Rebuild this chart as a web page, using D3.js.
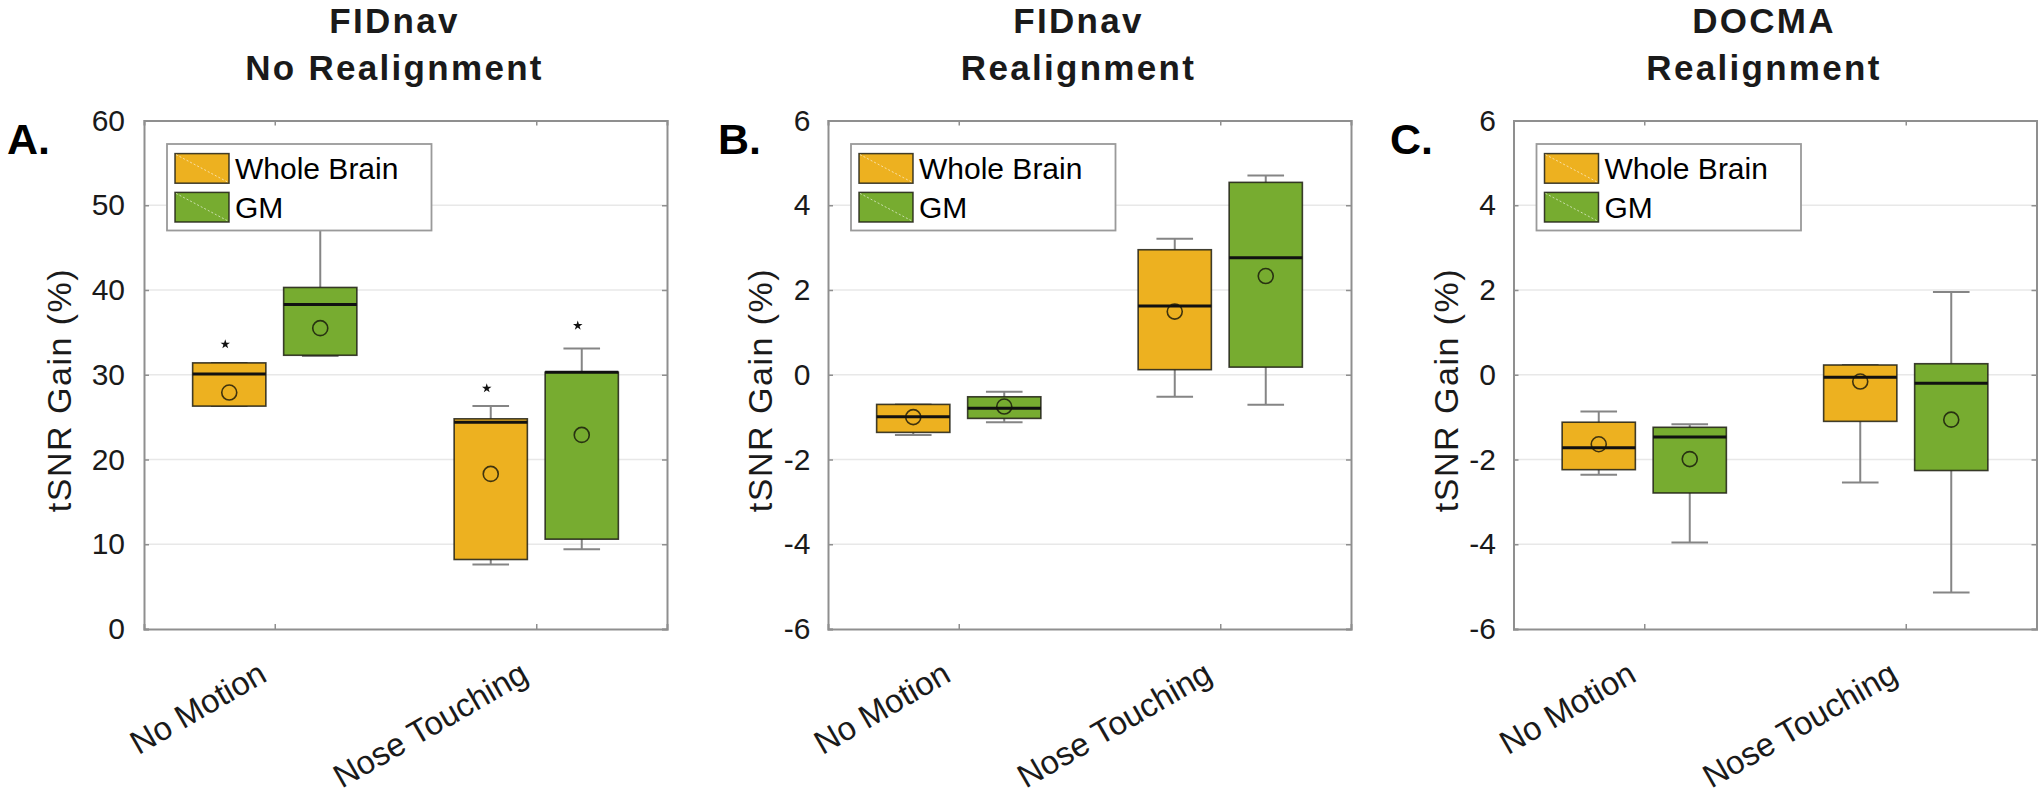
<!DOCTYPE html>
<html>
<head>
<meta charset="utf-8">
<script src="https://cdn.jsdelivr.net/npm/d3@7"></script>
<style>
  html, body { margin: 0; padding: 0; background: #fff; }
  svg { display: block; font-family: "Liberation Sans", Arial, Helvetica, sans-serif; }
</style>
</head>
<body>
<svg id="chart" width="2040" height="801"></svg>
<script>
// ---------------- DATA ----------------
const categories = ["No Motion", "Nose Touching"];
const seriesNames = ["Whole Brain", "GM"];
const panelLetters = ["A.", "B.", "C."];
const titleLine1 = ["FIDnav", "FIDnav", "DOCMA"];
const titleLine2 = ["No Realignment", "Realignment", "Realignment"];
const yAxisLabel = "tSNR Gain (%)";
const yTicksA = [0, 10, 20, 30, 40, 50, 60];
const yTicksBC = [-6, -4, -2, 0, 2, 4, 6];

// stats per category: [lower whisker, Q1, median, Q3, upper whisker, mean]
const fidnavNoRealignWholeBrain = [[26.3, 26.3, 30.1, 31.4, 31.4, 27.9], [7.6, 8.2, 24.4, 24.8, 26.3, 18.3]];
const fidnavNoRealignGM         = [[32.2, 32.3, 38.3, 40.3, 48.0, 35.5], [9.4, 10.6, 30.3, 30.3, 33.1, 22.9]];
const fidnavNoRealignOutliersWholeBrain = [33.6, 28.4];
const fidnavNoRealignOutliersGM         = [null, 35.8];

const fidnavRealignWholeBrain = [[-1.42, -1.36, -0.99, -0.70, -0.70, -1.00], [-0.52, 0.12, 1.62, 2.95, 3.21, 1.49]];
const fidnavRealignGM         = [[-1.12, -1.03, -0.79, -0.52, -0.40, -0.75], [-0.71, 0.18, 2.76, 4.54, 4.70, 2.33]];

const docmaRealignWholeBrain = [[-2.36, -2.24, -1.72, -1.12, -0.87, -1.64], [-2.54, -1.10, -0.06, 0.23, 0.23, -0.16]];
const docmaRealignGM         = [[-3.96, -2.79, -1.47, -1.24, -1.17, -1.99], [-5.14, -2.26, -0.20, 0.26, 1.95, -1.06]];

// ---------------- LAYOUT / STYLE ----------------
const seriesColors = ["#EDB120", "#77AC30"];
const seriesOffset = [-0.174, 0.174];
const boxWidthUnits = 0.28;
const plotTop = 120.5, plotBottom = 629, plotWidth = 523;
const panelLeft = [144, 828, 1513.5];
const letterX = [7, 718, 1390];
const ylabelGap = [73, 56, 56];
const tickGap = [19, 17.5, 17.5];
const frameColor = "#8f8f8f";
const textColor = "#1a1a1a";

const panels = [
  { yTicks: yTicksA,  stats: [fidnavNoRealignWholeBrain, fidnavNoRealignGM], outliers: [fidnavNoRealignOutliersWholeBrain, fidnavNoRealignOutliersGM] },
  { yTicks: yTicksBC, stats: [fidnavRealignWholeBrain, fidnavRealignGM], outliers: [[null, null], [null, null]] },
  { yTicks: yTicksBC, stats: [docmaRealignWholeBrain, docmaRealignGM], outliers: [[null, null], [null, null]] }
];

const svg = d3.select("#chart");
svg.append("rect").attr("width", 2040).attr("height", 801).attr("fill", "#fff");

const starType = d3.symbolStar;

panels.forEach((p, i) => {
  const left = panelLeft[i];
  const right = left + plotWidth;
  const x = d3.scaleLinear().domain([0.5, 2.5]).range([left, right]);
  const y = d3.scaleLinear().domain(d3.extent(p.yTicks)).range([plotBottom, plotTop]);
  const g = svg.append("g");

  // grid lines
  g.append("g").selectAll("line").data(p.yTicks.slice(1, -1)).join("line")
    .attr("x1", left).attr("x2", right)
    .attr("y1", d => y(d)).attr("y2", d => y(d))
    .attr("stroke", "#e8e8e8").attr("stroke-width", 1.5);

  const bw = x(boxWidthUnits) - x(0);
  const capW = bw / 2;

  seriesNames.forEach((s, si) => {
    categories.forEach((c, ci) => {
      const st = p.stats[si][ci];
      const cx = x(ci + 1 + seriesOffset[si]);
      const bg = g.append("g");
      // whiskers
      bg.append("line").attr("x1", cx).attr("x2", cx).attr("y1", y(st[0])).attr("y2", y(st[1]))
        .attr("stroke", "#858585").attr("stroke-width", 2);
      bg.append("line").attr("x1", cx).attr("x2", cx).attr("y1", y(st[3])).attr("y2", y(st[4]))
        .attr("stroke", "#858585").attr("stroke-width", 2);
      [st[0], st[4]].forEach(v => {
        bg.append("line").attr("x1", cx - capW / 2).attr("x2", cx + capW / 2)
          .attr("y1", y(v)).attr("y2", y(v))
          .attr("stroke", "#858585").attr("stroke-width", 2);
      });
      // box
      bg.append("rect")
        .attr("x", cx - bw / 2).attr("width", bw)
        .attr("y", y(st[3])).attr("height", Math.max(1, y(st[1]) - y(st[3])))
        .attr("fill", seriesColors[si])
        .attr("stroke", "rgba(30,30,20,0.85)").attr("stroke-width", 1.6);
      // median
      bg.append("line").attr("x1", cx - bw / 2).attr("x2", cx + bw / 2)
        .attr("y1", y(st[2])).attr("y2", y(st[2]))
        .attr("stroke", "#111").attr("stroke-width", 3);
      // mean
      bg.append("circle").attr("cx", cx).attr("cy", y(st[5])).attr("r", 7.5)
        .attr("fill", "none").attr("stroke", "rgba(20,20,10,0.8)").attr("stroke-width", 1.6);
      // outlier
      const o = p.outliers[si][ci];
      if (o !== null && o !== undefined) {
        bg.append("path").attr("d", d3.symbol().type(starType).size(28)())
          .attr("transform", `translate(${cx - 4},${y(o)})`)
          .attr("fill", "#111");
      }
    });
  });

  // frame + ticks
  const axL = g.append("g").attr("transform", `translate(${left},0)`)
    .call(d3.axisLeft(y).tickValues(p.yTicks).tickSize(-5).tickPadding(tickGap[i]).tickFormat(d => String(d)));
  const axR = g.append("g").attr("transform", `translate(${right},0)`)
    .call(d3.axisRight(y).tickValues(p.yTicks).tickSize(-5).tickFormat(""));
  const axB = g.append("g").attr("transform", `translate(0,${plotBottom})`)
    .call(d3.axisBottom(x).tickValues([1, 2]).tickSize(-5).tickFormat(""));
  const axT = g.append("g").attr("transform", `translate(0,${plotTop})`)
    .call(d3.axisTop(x).tickValues([1, 2]).tickSize(-5).tickFormat(""));
  [axL, axR, axB, axT].forEach(a => {
    a.select(".domain").attr("stroke", frameColor).attr("stroke-width", 2);
    a.selectAll(".tick line").attr("stroke", frameColor).attr("stroke-width", 1.5);
  });
  axL.selectAll(".tick text")
    .attr("font-size", 30).attr("fill", textColor)
    .attr("font-family", "'Liberation Sans', Arial, sans-serif");

  // x tick labels (rotated)
  g.append("g").selectAll("text").data(categories).join("text")
    .attr("transform", (d, ci) => `translate(${x(ci + 1) - 6},680) rotate(-30)`)
    .attr("text-anchor", "end")
    .attr("font-size", 33).attr("fill", textColor)
    .text(d => d);

  // y label
  g.append("text")
    .attr("transform", `translate(${left - ylabelGap[i]},390) rotate(-90)`)
    .attr("text-anchor", "middle")
    .attr("font-size", 34).attr("letter-spacing", "1.5px").attr("fill", textColor)
    .text(yAxisLabel);

  // title
  const tcx = left + plotWidth / 2 - 11;
  g.append("text").attr("x", tcx).attr("y", 33)
    .attr("text-anchor", "middle").attr("font-size", 35).attr("font-weight", "bold")
    .attr("letter-spacing", "2.3px").attr("fill", textColor).text(titleLine1[i]);
  g.append("text").attr("x", tcx).attr("y", 80)
    .attr("text-anchor", "middle").attr("font-size", 35).attr("font-weight", "bold")
    .attr("letter-spacing", "2.3px").attr("fill", textColor).text(titleLine2[i]);

  // panel letter
  g.append("text").attr("x", letterX[i]).attr("y", 154)
    .attr("font-size", 43).attr("font-weight", "bold").attr("fill", "#000")
    .text(panelLetters[i]);

  // legend
  const lg = g.append("g").attr("transform", `translate(${left + 23},144)`);
  lg.append("rect").attr("width", 264.5).attr("height", 86.5)
    .attr("fill", "#fff").attr("stroke", "#9a9a9a").attr("stroke-width", 1.8);
  seriesNames.forEach((s, si) => {
    const py = 9.6 + si * 38.8;
    lg.append("rect").attr("x", 8).attr("y", py).attr("width", 54).attr("height", 29.6)
      .attr("fill", seriesColors[si]).attr("stroke", "rgba(30,30,20,0.85)").attr("stroke-width", 1.5);
    lg.append("line").attr("x1", 9).attr("y1", py + 1).attr("x2", 61).attr("y2", py + 28.6)
      .attr("stroke", "rgba(255,255,255,0.6)").attr("stroke-width", 1).attr("stroke-dasharray", "2,2");
    lg.append("text").attr("x", 68).attr("y", 35.3 + si * 38.8)
      .attr("font-size", 30).attr("fill", "#000").text(s);
  });
});
</script>
</body>
</html>
